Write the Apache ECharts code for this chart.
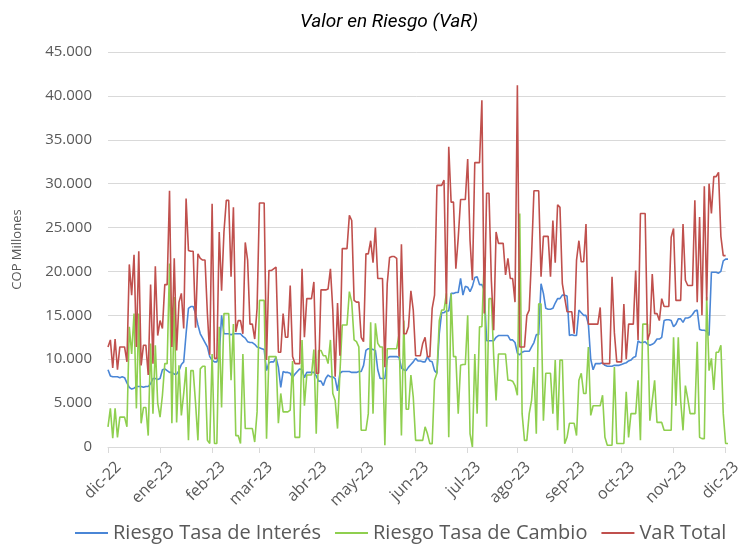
<!DOCTYPE html>
<html>
<head>
<meta charset="utf-8">
<script src="https://cdn.jsdelivr.net/npm/echarts@6/dist/echarts.min.js"></script>
<style>
  html, body { margin: 0; padding: 0; background: #ffffff; }
  #chart { width: 744px; height: 548px; }
</style>
</head>
<body>
<div id="chart"></div>
<script>
// Month tick labels (first business day of each month)
const tickLabels = ['dic-22','ene-23','feb-23','mar-23','abr-23','may-23','jun-23','jul-23','ago-23','sep-23','oct-23','nov-23','dic-23'];

// Business days from 2022-12-01 to 2023-12-01 (category axis)
const categories = [];
(function () {
  const d = new Date(Date.UTC(2022, 11, 1));
  const end = new Date(Date.UTC(2023, 11, 1));
  while (d <= end) {
    const wd = d.getUTCDay();
    if (wd !== 0 && wd !== 6) categories.push(d.toISOString().slice(0, 10));
    d.setUTCDate(d.getUTCDate() + 1);
  }
})();

// Riesgo Tasa de Interés (COP millones)
const tasaInteres = [
  8800,8100,8000,8000,8000,7900,8000,7900,7300,6800,6600,6700,6900,6900,6900,6800,6900,6900,7200,7800,7800,7700,
  7800,8800,8900,8700,8500,8500,8300,8300,8700,9400,9700,12900,15800,16000,16000,15200,13900,12900,12400,11900,11400,10300,
  9900,9700,9700,10400,15000,12900,12900,12900,12800,12900,12900,12900,12900,12600,12400,12000,11900,11900,11700,11400,
  11300,11200,11100,8700,9600,9700,9700,10200,9100,6800,8600,8500,8500,8400,7900,8300,8600,8900,8800,7900,8500,8500,8500,
  8500,8100,7500,7500,7000,7800,8200,8000,8000,7800,6400,8400,8600,8600,8600,8600,8500,8500,8500,8600,
  8600,9300,11000,11200,11200,11100,11000,8800,7800,7800,7800,10100,10300,10300,10300,10300,10200,9000,8800,8700,9100,9400,9700,
  10100,9800,9800,9700,9700,10300,9800,9700,8700,8400,12900,15300,15300,15500,15500,17500,17500,17600,17600,19200,17300,18300,
  18200,17700,18300,19300,19400,18500,18500,17900,12100,12100,12100,12100,12500,12700,12700,12700,12700,12700,12200,12200,11900,10700,
  10500,10800,10900,10900,10900,11400,11900,12800,12800,18600,17500,15800,15700,15700,15800,16400,16900,16900,17300,17300,17200,12700,12800,
  12700,12700,15600,15300,15000,15000,14000,10000,8800,9500,9500,9500,9600,9300,9200,9200,9200,9300,9300,9300,9400,
  9500,9600,9800,9900,10200,10300,12100,11900,11900,12000,11700,11600,11700,11900,12300,12300,12500,14400,14500,14500,14400,13700,
  14000,14600,14600,14200,14700,14700,14800,15100,15500,15600,13400,13300,13300,13200,12700,19900,19900,19900,19800,20000,21200,21400,
  21400
];

// Riesgo Tasa de Cambio (COP millones)
const tasaCambio = [
  2300,4400,1000,4400,1100,3400,3400,3400,2300,13700,10600,15200,4400,15200,2700,4500,4500,1300,11800,3800,11600,5000,
  3400,5900,9500,9500,20900,2700,17100,2800,9300,3600,6100,9100,760,8700,8700,5000,760,8900,9200,9200,760,400,
  10600,400,400,13700,4500,15200,15200,15200,7600,14000,1300,1300,400,10600,2100,2100,2100,2100,570,4000,
  16700,16700,16700,950,10300,10300,10300,10300,2700,6100,4000,4000,4000,4200,9800,1100,1100,1100,12200,4700,8200,8200,8200,
  11100,1500,11000,11000,10400,10400,9500,12200,6100,5300,2100,8400,13900,13900,13900,17700,16500,12200,12000,11400,
  1900,1900,1900,3800,14200,3800,14100,11800,11400,11400,200,11200,11200,11200,11200,11200,12900,1300,14400,4300,4300,8200,5700,
  760,760,760,760,2300,1500,380,380,7600,8400,14400,15600,15600,17500,1100,17500,10300,10300,3800,9300,9400,9400,
  15000,1500,0,10600,3800,13700,13700,21600,2300,16900,16900,10300,5300,10600,10600,10600,10600,7600,7600,7500,7000,5900,
  26600,3800,760,760,3800,5300,9100,1500,16300,16300,3000,8400,8400,8400,3800,9900,1900,9900,9900,380,1100,
  2700,2700,2700,1300,7600,8400,6100,6100,11400,3600,4700,4700,4700,4700,5900,1100,200,200,200,9100,400,
  400,400,400,6300,1100,3800,3800,3800,7600,760,14000,14000,14000,3000,5300,7600,2800,2800,2800,1900,1900,1900,
  1900,12500,4700,12500,5300,1900,7000,5500,3800,3800,3800,12000,1100,950,950,17100,8700,10100,6500,10800,10800,11600,3800,400,
  400
];

// VaR Total (COP millones)
const varTotal = [
  11400,12200,9000,12300,8800,11400,11400,11400,9700,20800,17300,21900,11400,22300,9300,11600,11600,8200,18500,9500,20600,12700,
  14400,13500,18500,18500,29200,11400,21500,11000,16500,17500,13500,28300,22400,22300,22300,13600,22000,21500,21300,21300,15200,10500,
  27700,10100,10100,24500,17800,24500,28100,28100,19400,27300,13100,14400,14400,12900,23300,21300,14000,14000,12300,15800,
  27800,27800,27800,9900,20100,20100,20300,20500,10800,10800,15200,12500,12500,18400,10300,9500,9500,9500,20300,12500,16900,16900,16900,
  18800,8400,8400,17900,17900,17900,18000,20300,15600,8000,16400,10400,22600,22600,22600,26400,25800,16700,16500,16500,
  12500,12000,22000,22000,23500,21000,25000,19200,19200,19200,9100,18600,21600,21700,21700,21500,10300,23100,12900,12900,13700,17800,15600,
  10400,10400,10400,11800,12500,10300,10300,15800,17300,29800,29800,29800,30400,16300,34200,27900,27900,20300,23800,28200,28200,
  28200,32800,23500,19000,32400,32400,32400,39500,15200,28900,28900,19000,13300,24500,23200,23200,23200,19600,21500,19200,19200,16500,
  41200,11400,11400,11400,15000,15600,21800,29200,29200,29200,19400,24000,24000,24000,19400,25800,21000,27600,27300,18600,17000,
  15400,15400,15400,12900,21300,23500,21100,21100,25400,14000,14000,14000,14000,14000,15900,9500,9500,9500,9500,19400,13000,
  9700,9700,9700,16300,10000,14000,14000,14000,20100,12200,26600,26600,26600,12200,13000,19700,15200,15200,14400,16900,16000,16000,
  16000,23900,24900,16700,16700,16700,25400,19000,18400,18400,18400,28100,16500,26200,15000,29700,16700,30000,26600,30800,30800,31300,24000,21800,
  21800
];

const yMin = 0, yMax = 45000, yStep = 5000;

// indices where a new month starts
const monthStart = {};
let prevM = null, k = 0;
categories.forEach((c, i) => {
  const m = c.slice(0, 7);
  if (m !== prevM) { monthStart[i] = tickLabels[k++]; prevM = m; }
});

function fmt(v) { return String(v).replace(/\B(?=(\d{3})+(?!\d))/g, '.'); }

const chart = echarts.init(document.getElementById('chart'), null, { renderer: 'canvas' });
const baseFont = 'Open Sans';
chart.setOption({
  animation: false,
  backgroundColor: '#ffffff',
  title: {
    text: 'Valor en Riesgo (VaR)',
    left: 295,
    top: 8,
    textStyle: { fontFamily: 'Roboto', fontStyle: 'italic', fontWeight: 'normal', fontSize: 19, color: '#000000' }
  },
  legend: {
    top: 523,
    left: 75,
    padding: 0,
    itemWidth: 33,
    itemHeight: 2,
    itemGap: 14,
    icon: 'rect',
    textStyle: { fontFamily: baseFont, fontSize: 20, color: '#595959' },
    data: ['Riesgo Tasa de Interés', 'Riesgo Tasa de Cambio', 'VaR Total']
  },
  grid: { left: 108, right: 0, top: 52, bottom: 101, containLabel: false },
  xAxis: {
    type: 'category',
    data: categories,
    boundaryGap: false,
    axisLine: { show: true, lineStyle: { color: '#d9d9d9', width: 1 } },
    axisTick: { show: true, length: 6, lineStyle: { color: '#d9d9d9' }, interval: (i) => monthStart[i] !== undefined },
    axisLabel: {
      interval: (i) => monthStart[i] !== undefined,
      formatter: (v, i) => monthStart[i] || '',
      rotate: 45,
      margin: 7,
      verticalAlign: 'top',
      padding: [7, 0, 0, 0],
      fontFamily: baseFont,
      fontSize: 16,
      color: '#595959'
    },
    splitLine: { show: false }
  },
  yAxis: {
    type: 'value',
    min: yMin, max: yMax, interval: yStep,
    name: 'COP Millones',
    nameLocation: 'middle',
    nameRotate: 90,
    nameGap: 84,
    nameTextStyle: { fontFamily: baseFont, fontSize: 13, color: '#595959' },
    axisLine: { show: false },
    axisTick: { show: false },
    axisLabel: { formatter: fmt, fontFamily: baseFont, fontSize: 15, color: '#595959', margin: 16 },
    splitLine: { show: true, lineStyle: { color: '#d9d9d9', width: 1 } }
  },
  series: [
    { name: 'Riesgo Tasa de Interés', type: 'line', data: tasaInteres, symbol: 'none', lineStyle: { width: 1.6, color: '#4a86d6' }, itemStyle: { color: '#4a86d6' } },
    { name: 'Riesgo Tasa de Cambio', type: 'line', data: tasaCambio, symbol: 'none', lineStyle: { width: 1.6, color: '#8fcf4f' }, itemStyle: { color: '#8fcf4f' } },
    { name: 'VaR Total', type: 'line', data: varTotal, symbol: 'none', lineStyle: { width: 1.6, color: '#c0504d' }, itemStyle: { color: '#c0504d' } }
  ]
});
</script>
</body>
</html>
